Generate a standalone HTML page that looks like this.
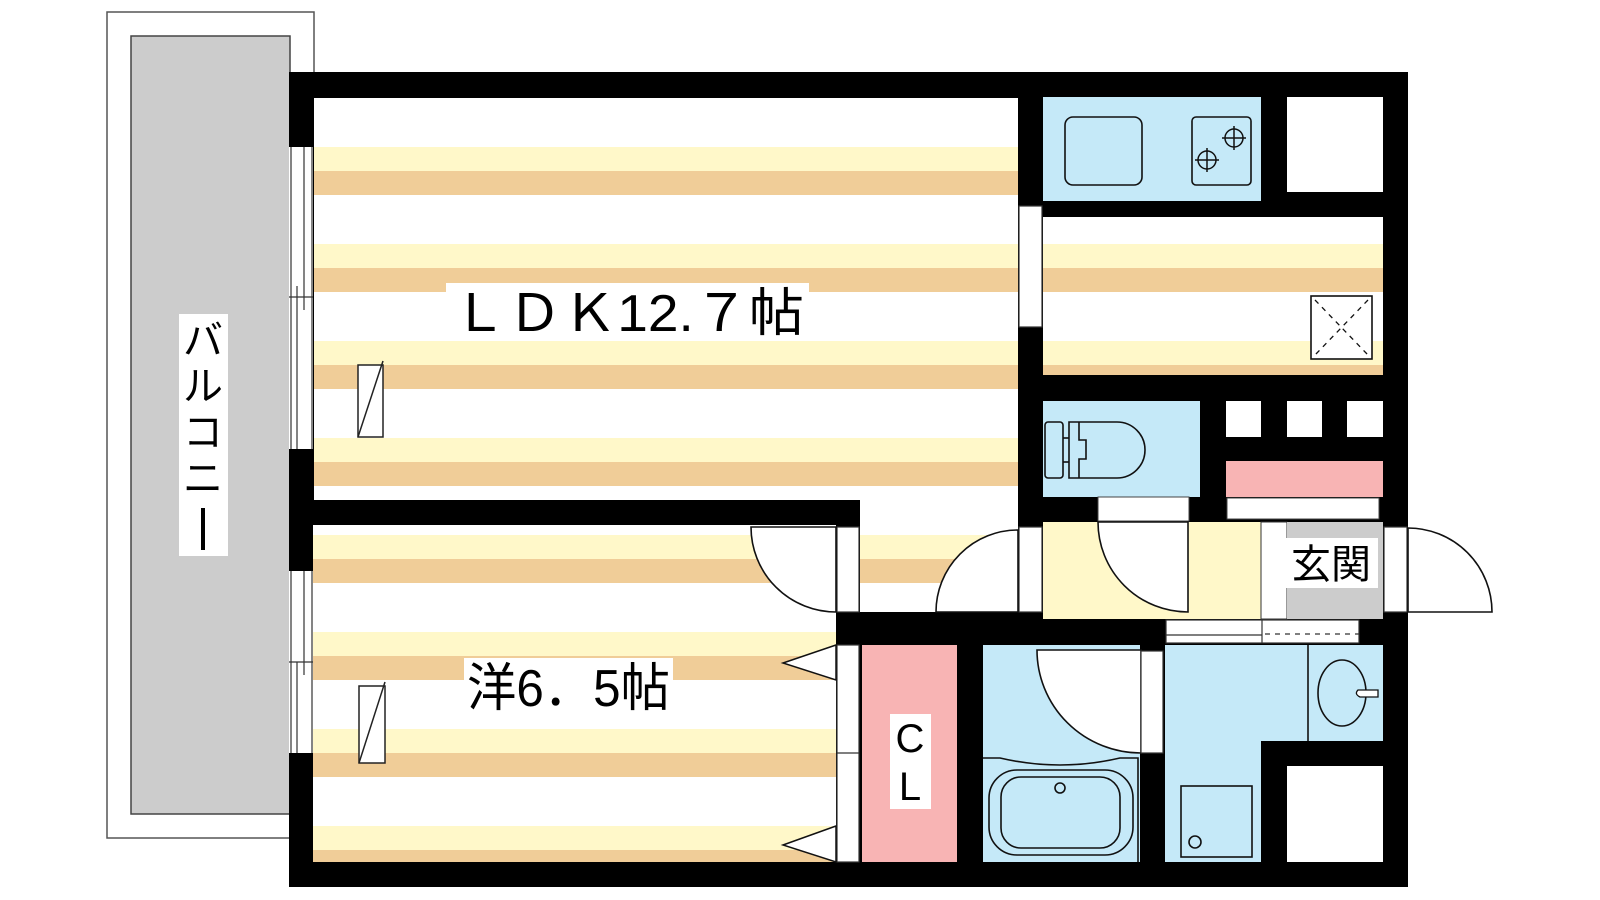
<!DOCTYPE html>
<html><head><meta charset="utf-8"><style>
html,body{margin:0;padding:0;background:#fff;width:1600px;height:900px;overflow:hidden}
svg{display:block}
text{font-family:"Liberation Sans","Noto Sans CJK JP",sans-serif;fill:#000}
</style></head><body>
<svg width="1600" height="900" viewBox="0 0 1600 900" xmlns="http://www.w3.org/2000/svg">
<defs>
<pattern id="ps" patternUnits="userSpaceOnUse" x="0" y="147" width="1600" height="97">
<rect x="0" y="0" width="1600" height="97" fill="#fff"/>
<rect x="0" y="0" width="1600" height="24" fill="#fff8c9"/>
<rect x="0" y="24" width="1600" height="24" fill="#f0cd98"/>
</pattern>
</defs>

<!-- balcony -->
<rect x="107" y="12" width="207" height="826" fill="#fff" stroke="#555" stroke-width="1.5"/>
<rect x="131" y="36" width="159" height="778" fill="#ccc" stroke="#444" stroke-width="1.5"/>
<rect x="179" y="314" width="49" height="242" fill="#fff"/>
<text x="203" y="354" font-size="40" text-anchor="middle">バ</text>
<text x="203" y="400" font-size="40" text-anchor="middle">ル</text>
<text x="203" y="446" font-size="40" text-anchor="middle">コ</text>
<text x="203" y="492" font-size="40" text-anchor="middle">ニ</text>
<rect x="201" y="508" width="4" height="42" fill="#000"/>

<!-- outer black body -->
<rect x="289" y="72" width="1119" height="815" fill="#000"/>

<!-- LDK floor -->
<rect x="314" y="98" width="704" height="402" fill="url(#ps)"/>
<rect x="860" y="500" width="158" height="112" fill="url(#ps)"/>
<!-- western room floor -->
<rect x="313" y="525" width="523" height="337" fill="url(#ps)"/>

<!-- left windows -->
<rect x="289" y="147" width="24" height="302" fill="#fff"/>
<g stroke="#333" stroke-width="1.2" fill="none">
<line x1="291" y1="147" x2="291" y2="449"/><line x1="297" y1="297" x2="297" y2="449"/>
<line x1="304" y1="147" x2="304" y2="310"/><line x1="312" y1="147" x2="312" y2="449"/>
<line x1="289" y1="297" x2="313" y2="297"/><line x1="297" y1="286" x2="297" y2="297"/>
</g>
<rect x="289" y="571" width="24" height="182" fill="#fff"/>
<g stroke="#333" stroke-width="1.2" fill="none">
<line x1="291" y1="571" x2="291" y2="753"/><line x1="297" y1="662" x2="297" y2="753"/>
<line x1="304" y1="571" x2="304" y2="675"/><line x1="312" y1="571" x2="312" y2="753"/>
<line x1="289" y1="662" x2="313" y2="662"/>
</g>

<!-- small fixtures -->
<g fill="#fff" stroke="#222" stroke-width="1.5">
<rect x="358" y="365" width="25" height="72"/><line x1="358" y1="437" x2="383" y2="361"/>
<rect x="359" y="686" width="26" height="77"/><line x1="359" y1="763" x2="385" y2="682"/>
</g>

<!-- kitchen -->
<rect x="1043" y="97" width="218" height="104" fill="#c5e9f8"/>
<rect x="1065" y="117" width="77" height="68" rx="8" fill="none" stroke="#111" stroke-width="1.6"/>
<rect x="1192" y="117" width="59" height="68" rx="4" fill="none" stroke="#111" stroke-width="1.6"/>
<g fill="none" stroke="#111" stroke-width="1.5">
<circle cx="1234" cy="138" r="9"/><line x1="1234" y1="126" x2="1234" y2="150"/><line x1="1222" y1="138" x2="1246" y2="138"/>
<circle cx="1207" cy="160" r="9"/><line x1="1207" y1="148" x2="1207" y2="172"/><line x1="1195" y1="160" x2="1219" y2="160"/>
</g>
<rect x="1287" y="97" width="96" height="95" fill="#fff"/>
<rect x="1043" y="217" width="340" height="158" fill="url(#ps)"/>
<rect x="1311" y="296" width="61" height="63" fill="#fff" stroke="#111" stroke-width="1.6"/>
<g stroke="#111" stroke-width="1.3" stroke-dasharray="5,5"><line x1="1315" y1="300" x2="1368" y2="355"/><line x1="1368" y1="300" x2="1315" y2="355"/></g>
<!-- kitchen window -->
<rect x="1019" y="206" width="23" height="121" fill="#fff" stroke="#333" stroke-width="1.2"/>

<!-- toilet -->
<rect x="1043" y="401" width="157" height="96" fill="#c5e9f8"/>
<g fill="none" stroke="#111" stroke-width="1.6">
<rect x="1045" y="422" width="18" height="56" rx="3"/>
<path d="M1069,422 H1117 A28,28 0 0 1 1117,478 H1069 Z"/>
<line x1="1063" y1="438" x2="1069" y2="438"/><line x1="1063" y1="462" x2="1069" y2="462"/>
<path d="M1079,422 V440 H1086 V459 H1079 V478"/>
</g>
<rect x="1226" y="401" width="35" height="36" fill="#fff"/>
<rect x="1287" y="401" width="35" height="36" fill="#fff"/>
<rect x="1347" y="401" width="36" height="36" fill="#fff"/>
<rect x="1226" y="461" width="157" height="36" fill="#f8b4b4"/>
<rect x="1227" y="498" width="152" height="21" fill="#fff" stroke="#444" stroke-width="1"/>
<rect x="1098" y="497" width="91" height="24" fill="#fff" stroke="#444" stroke-width="1"/>

<!-- hall / genkan -->
<rect x="1043" y="522" width="218" height="97" fill="#fff8c9"/>
<rect x="1261" y="522" width="26" height="97" fill="#fff" stroke="#333" stroke-width="1"/>
<rect x="1287" y="522" width="96" height="97" fill="#ccc"/>
<rect x="1284" y="538" width="94" height="50" fill="#fff"/>
<text x="1331" y="578" font-size="40" text-anchor="middle">玄関</text>
<!-- toilet door -->
<path d="M1098,522 A90,90 0 0 0 1188,612 V522 Z" fill="#fff" stroke="#111" stroke-width="1.6"/>
<!-- LDK door -->
<rect x="1019" y="527" width="23" height="85" fill="#fff" stroke="#333" stroke-width="1.2"/>
<path d="M936,612 A82,82 0 0 1 1018,530 V612 Z" fill="#fff" stroke="#111" stroke-width="1.6"/>
<!-- entrance door -->
<rect x="1384" y="527" width="23" height="85" fill="#fff" stroke="#333" stroke-width="1.2"/>
<path d="M1408,528 A84,84 0 0 1 1492,612 H1408 Z" fill="#fff" stroke="#111" stroke-width="1.6"/>
<!-- western room door -->
<rect x="837" y="527" width="22" height="85" fill="#fff" stroke="#333" stroke-width="1.2"/>
<path d="M751,527 A85,85 0 0 0 836,612 V527 Z" fill="#fff" stroke="#111" stroke-width="1.6"/>

<!-- closet -->
<rect x="862" y="645" width="95" height="217" fill="#f8b4b4"/>
<rect x="890" y="714" width="41" height="95" fill="#fff"/>
<text x="910" y="752" font-size="40" text-anchor="middle">C</text>
<text x="910" y="800" font-size="40" text-anchor="middle">L</text>
<rect x="837" y="645" width="22" height="217" fill="#fff" stroke="#333" stroke-width="1.2"/>
<line x1="837" y1="753" x2="859" y2="753" stroke="#333" stroke-width="1.2"/>
<g fill="#fff" stroke="#111" stroke-width="1.5">
<polygon points="836,645 783,663 836,680"/>
<polygon points="836,826 783,845 836,862"/>
</g>

<!-- bath -->
<rect x="983" y="645" width="157" height="217" fill="#c5e9f8"/>
<path d="M1037,650 A104,103 0 0 0 1141,753 V650 Z" fill="#fff" stroke="#111" stroke-width="1.6"/>
<rect x="1141" y="651" width="22" height="102" fill="#fff" stroke="#333" stroke-width="1.2"/>
<g fill="none" stroke="#111" stroke-width="1.6">
<path d="M983,758 H1000 Q1060,772 1120,758 H1138 V862"/>
<rect x="989" y="770" width="144" height="85" rx="28"/>
<rect x="1001" y="777" width="119" height="71" rx="20"/>
<circle cx="1060" cy="788" r="5"/>
</g>

<!-- washroom -->
<rect x="1165" y="645" width="218" height="96" fill="#c5e9f8"/>
<rect x="1165" y="741" width="96" height="121" fill="#c5e9f8"/>
<rect x="1287" y="766" width="96" height="96" fill="#fff"/>
<g fill="none" stroke="#111" stroke-width="1.6">
<line x1="1308" y1="645" x2="1308" y2="741"/>
<ellipse cx="1342" cy="693" rx="24" ry="33"/>
<rect x="1181" y="786" width="71" height="71"/>
<circle cx="1195" cy="842" r="6"/>
</g>
<path d="M1358,690 H1378 V697 H1360 Q1354,694 1358,690 Z" fill="#fff" stroke="#111" stroke-width="1.3"/>
<!-- sliding door -->
<rect x="1166" y="620" width="193" height="23" fill="#fff" stroke="#333" stroke-width="1.2"/>
<line x1="1166" y1="635" x2="1262" y2="635" stroke="#333" stroke-width="1.2"/>
<line x1="1262" y1="620" x2="1262" y2="643" stroke="#333" stroke-width="1.2"/>
<line x1="1265" y1="634" x2="1359" y2="634" stroke="#333" stroke-width="1.2" stroke-dasharray="5,5"/>

<!-- labels -->
<rect x="446" y="283" width="363" height="57" fill="#fff"/>
<text x="452" y="331" font-size="52" textLength="352" lengthAdjust="spacingAndGlyphs" font-family="Noto Sans CJK JP">ＬＤＫ12.７帖</text>
<rect x="464" y="658" width="209" height="56" fill="#fff"/>
<text x="467" y="706" font-size="52" textLength="203" lengthAdjust="spacingAndGlyphs" font-family="Noto Sans CJK JP">洋6．5帖</text>
</svg>
</body></html>
